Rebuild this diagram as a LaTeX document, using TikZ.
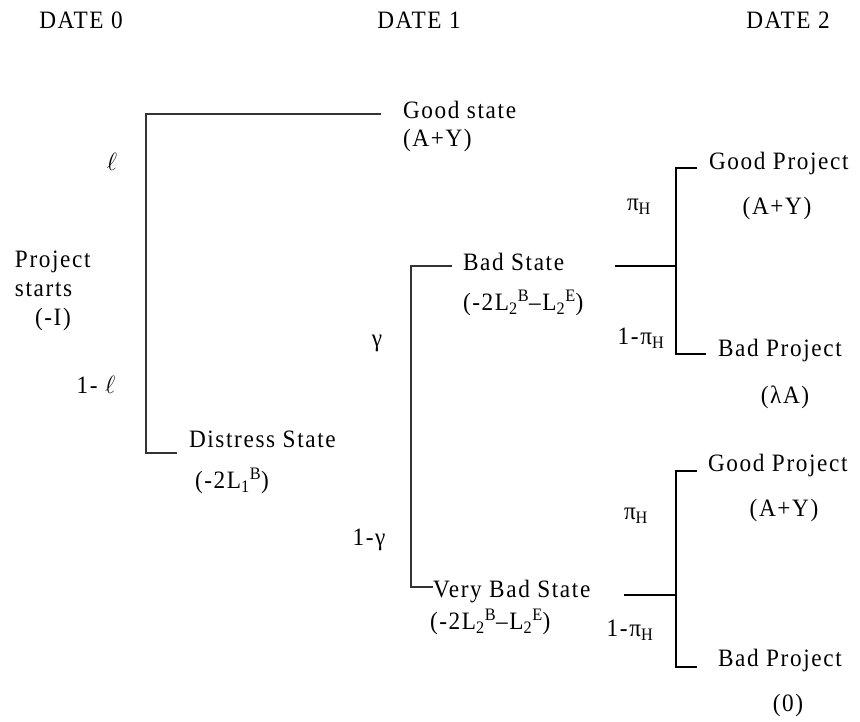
\documentclass[tikz,border=0pt]{standalone}
\usepackage{fontspec}
\setmainfont{Liberation Serif}[LetterSpace=6.5,FakeStretch=0.93]
\begin{document}
\begin{tikzpicture}[x=1pt,y=-1pt,
  lbl/.style={inner sep=0pt,outer sep=0pt,font=\fontsize{25}{29}\selectfont},
  lw/.style={lbl,anchor=west},
  branch/.style={draw=black!80,line width=1.2pt},
  branchk/.style={draw=black,line width=1.1pt}]
\useasboundingbox (0,0) rectangle (860,722);
\newcommand{\sbt}[1]{\textsubscript{#1}}
\newcommand{\spt}[1]{\textsuperscript{#1}}
% headers
\node[lbl] (d0) at (81,20) {DATE 0};
\node[lbl] (d1) at (419,20) {DATE 1};
\node[lbl] (d2) at (788,20) {DATE 2};
% root
\node[lw] (s1) at (15,262) {Project};
\node[lw] (s2) at (15,290) {starts};
\node[lw] (s3) at (35,319) {(-I)};
\node[lbl] (ell) at (112,162) {$\ell$};
\node[lbl] (oneell) at (96,385) {1- $\ell$};
\node[lw] (good) at (403,110) {Good state};
\node[lw] (goodv) at (403,140) {(A+Y)};
\node[lw] (dist) at (189,439) {Distress State};
\node[lw] (distv) at (195,481) {(-2L\sbt{1}\spt{B})};
\coordinate (r0t) at (146,114);
\coordinate (r0b) at (146,453);
\coordinate (r0te) at (381,114);
\coordinate (r0be) at (177,453);
\draw[branch] (r0te) -- (r0t) -- (r0b) -- (r0be);
% date 1 branch
\node[lbl] (gam) at (377,343) {γ};
\node[lbl] (onegam) at (369,540) {1-γ};
\node[lw] (bad) at (463,262) {Bad State};
\node[lw] (badv) at (463,303) {(-2L\sbt{2}\spt{B}–L\sbt{2}\spt{E})};
\node[lw] (vbad) at (433,592) {Very Bad State};
\node[lw] (vbadv) at (430,622) {(-2L\sbt{2}\spt{B}–L\sbt{2}\spt{E})};
\coordinate (r1t) at (411,266);
\coordinate (r1b) at (411,587);
\coordinate (r1te) at (452,266);
\draw[branch] (r1te) -- (r1t) -- (r1b) -- (vbad.west |- r1b);
% upper right
\node[lbl] (pi1) at (639,207) {π\sbt{H}};
\node[lbl] (opi1) at (641,338) {1-π\sbt{H}};
\node[lw] (gp1) at (709,163) {Good Project};
\node[lbl] (gpv1) at (777,208) {(A+Y)};
\node[lw] (bp1) at (718,350) {Bad Project};
\node[lbl] (bpv1) at (785,397) {(λA)};
\coordinate (a0) at (615,266);
\coordinate (a1) at (676,266);
\coordinate (a1t) at (676,168);
\coordinate (a1b) at (676,354);
\coordinate (a1te) at (697,168);
\coordinate (a1be) at (706,354);
\draw[branchk] (a0) -- (a1);
\draw[branchk] (a1te) -- (a1t) -- (a1b) -- (a1be);
% lower right
\node[lbl] (pi2) at (636,516) {π\sbt{H}};
\node[lbl] (opi2) at (630,630) {1-π\sbt{H}};
\node[lw] (gp2) at (708,465) {Good Project};
\node[lbl] (gpv2) at (784,510) {(A+Y)};
\node[lw] (bp2) at (718,660) {Bad Project};
\node[lbl] (bpv2) at (788,705) {(0)};
\coordinate (b0) at (624,595);
\coordinate (b1) at (676,595);
\coordinate (b1t) at (676,471);
\coordinate (b1b) at (676,667);
\coordinate (b1te) at (697,471);
\coordinate (b1be) at (697,667);
\draw[branchk] (b0) -- (b1);
\draw[branchk] (b1te) -- (b1t) -- (b1b) -- (b1be);
\end{tikzpicture}
\end{document}
